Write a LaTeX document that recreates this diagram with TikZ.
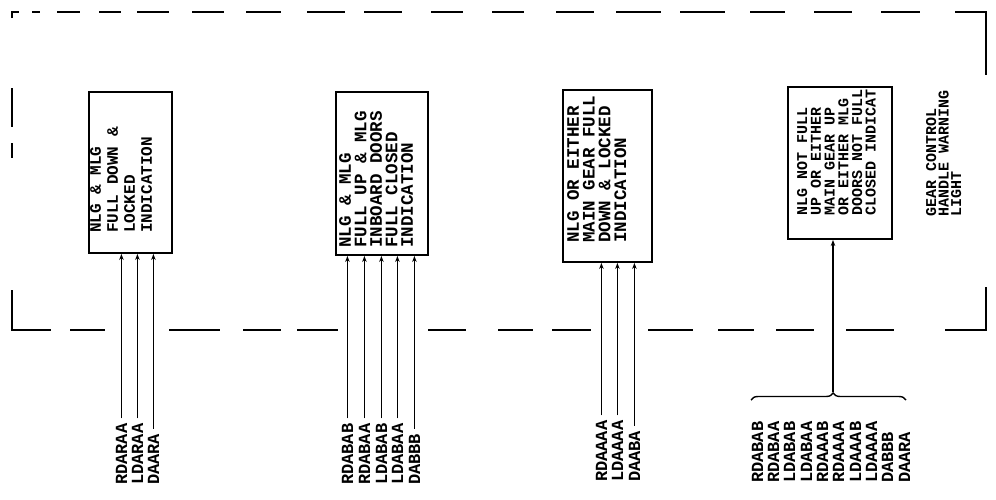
\documentclass[tikz,border=0pt]{standalone}
\usepackage{fontspec}
\setmonofont{Liberation Mono}
\usetikzlibrary{arrows.meta,decorations.pathreplacing}
\begin{document}
\begin{tikzpicture}[x=1pt,y=-1pt,
  frame/.style={line width=1.7pt},
  gbox/.style={draw, line width=1.9pt, inner sep=0pt},
  rtext/.style={rotate=90, anchor=north west, align=left, inner sep=0pt},
  sig/.style={rotate=90, anchor=base west, inner sep=0pt, font=\ttfamily\bfseries\fontsize{17}{17}\selectfont},
  feed/.style={line width=1.2pt, -{Stealth[length=6pt,width=4.5pt]}, shorten <=5pt},
]
\useasboundingbox (0,0) rectangle (996,499);

% dashed enclosure (broken where the signal lines pass)
\draw[frame] (12,18) -- (12,12) -- (19,12);
\foreach \a/\b in {32/40,57/80,99/121,137/169,192/224,246/281,307/345,364/402,431/463,492/524,556/594,616/661,680/725,750/785,814/852,881/920}
  \draw[frame] (\a,12) -- (\b,12);
\draw[frame] (955,12) -- (986,12) -- (986,75);
\foreach \a/\b in {88/127,143/158}
  \draw[frame] (12,\a) -- (12,\b);
\draw[frame] (12,290) -- (12,330) -- (51,330);
\foreach \a/\b in {70/105,169/220,243/281,297/338,428/466,498/533,552/591,648/693,718/754,776/814,846/894}
  \draw[frame] (\a,330) -- (\b,330);
\draw[frame] (945,330) -- (986,330) -- (986,287);

% boxes
\node[gbox, minimum width=83pt, minimum height=161pt] (b1) at (130.5,172.5) {};
\node[gbox, minimum width=92pt, minimum height=163pt] (b2) at (382,173.5) {};
\node[gbox, minimum width=89pt, minimum height=172pt] (b3) at (607.5,176) {};
\node[gbox, minimum width=104pt, minimum height=152pt] (b4) at (840,163) {};

% box texts
\node[rtext, font=\ttfamily\bfseries\fontsize{16}{17}\selectfont] (t1) at (90,233)
  {NLG \& MLG\\FULL DOWN \&\\LOCKED\\INDICATION};
\node[rtext, font=\ttfamily\bfseries\fontsize{17.5}{15.5}\selectfont] (t2) at (339,248)
  {NLG \& MLG\\FULL UP \& MLG\\INBOARD DOORS\\FULL CLOSED\\INDICATION};
\node[rtext, font=\ttfamily\bfseries\fontsize{17.5}{15.7}\selectfont] (t3) at (567,243)
  {NLG OR EITHER\\MAIN GEAR FULL\\DOWN \& LOCKED\\INDICATION};
\node[rtext, font=\ttfamily\bfseries\fontsize{15}{13.7}\selectfont] (t4) at (797,216)
  {NLG NOT FULL\\UP OR EITHER\\MAIN GEAR UP\\OR EITHER MLG\\DOORS NOT FULL\\CLOSED INDICAT};
\node[rtext, font=\ttfamily\bfseries\fontsize{15}{12.5}\selectfont] (g) at (926,217)
  {GEAR CONTROL\\HANDLE WARNING\\LIGHT};

% group 1 labels
\node[sig] (l11) at (127,485) {RDARAA};
\node[sig] (l12) at (143,485) {LDARAA};
\node[sig] (l13) at (159,485) {DAARA};
% group 2 labels
\node[sig] (l21) at (353,485) {RDABAB};
\node[sig] (l22) at (370,485) {RDABAA};
\node[sig] (l23) at (387,485) {LDABAB};
\node[sig] (l24) at (403,485) {LDABAA};
\node[sig] (l25) at (420,485) {DABBB};
% group 3 labels
\node[sig] (l31) at (607,482) {RDAAAA};
\node[sig] (l32) at (623,482) {LDAAAA};
\node[sig] (l33) at (640,482) {DAABA};
% group 4 labels
\node[sig] (l41) at (763,483) {RDABAB};
\node[sig] (l42) at (779,483) {RDABAA};
\node[sig] (l43) at (795,483) {LDABAB};
\node[sig] (l44) at (812,483) {LDABAA};
\node[sig] (l45) at (828,483) {RDAAAB};
\node[sig] (l46) at (844,483) {RDAAAA};
\node[sig] (l47) at (861,483) {LDAAAB};
\node[sig] (l48) at (877,483) {LDAAAA};
\node[sig] (l49) at (893,483) {DABBB};
\node[sig] (l4a) at (910,483) {DAARA};

% connectors
\foreach \l in {l11,l12,l13} \draw[feed] (\l.east) -- (\l.east |- b1.south);
\foreach \l in {l21,l22,l23,l24,l25} \draw[feed] (\l.east) -- (\l.east |- b2.south);
\foreach \l in {l31,l32,l33} \draw[feed] (\l.east) -- (\l.east |- b3.south);

% brace
\draw[line width=1.4pt, decorate, decoration={brace, amplitude=7pt, aspect=0.53}] (751,400) -- (906,400);
\coordinate (bt) at (833,392);
\draw[feed, shorten <=0pt] (bt) -- (bt |- b4.south);
\end{tikzpicture}
\end{document}
